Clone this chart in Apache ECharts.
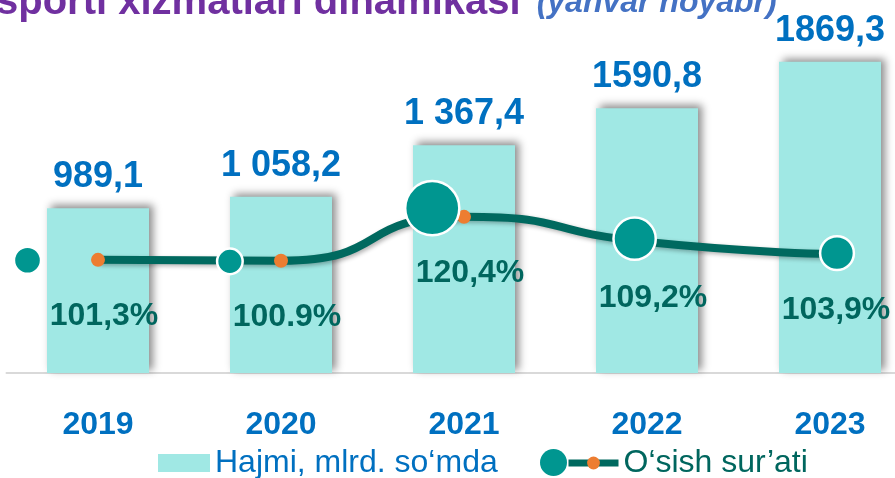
<!DOCTYPE html>
<html>
<head>
<meta charset="utf-8">
<script src="https://cdn.jsdelivr.net/npm/echarts@6.0.0/dist/echarts.min.js"></script>
<style>
  html, body { margin: 0; padding: 0; background: #fff; }
  #main { width: 895px; height: 478px; }
</style>
</head>
<body>
<div id="main"></div>
<script>
const years = ['2019', '2020', '2021', '2022', '2023']
const volume = [989.1, 1058.2, 1367.4, 1590.8, 1869.3]
const volumeLabels = ['989,1', '1 058,2', '1 367,4', '1590,8', '1869,3']
const growth = [101.3, 100.9, 120.4, 109.2, 103.9]
const growthLabels = ['101,3%', '100.9%', '120,4%', '109,2%', '103,9%']

const font = 'Liberation Sans, Arial, sans-serif'
const blue = '#0070C0'
const teal = '#00665E'

const chart = echarts.init(document.getElementById('main'), null, { renderer: 'canvas' })

const option = {
  animation: false,
  backgroundColor: '#fff',
  title: {
    left: -4,
    top: -17,
    padding: 0,
    text: '{a|sporti xizmatlari dinamikasi}{b|(yanvar noyabr)}',
    textStyle: {
      rich: {
        a: { fontFamily: font, fontSize: 40, fontWeight: 'bold', color: '#7030A0', lineHeight: 40 },
        b: { fontFamily: font, fontSize: 32, fontStyle: 'italic', color: '#4472C4', lineHeight: 40, padding: [0, 0, 0, 16] }
      }
    }
  },
  legend: [
    {
      data: ['Hajmi, mlrd. so‘mda'],
      left: 158, top: 447, padding: 0,
      itemWidth: 52, itemHeight: 18, icon: 'rect',
      textStyle: { fontFamily: font, fontSize: 32, color: blue }
    },
    {
      data: [{ name: 'doira', icon: 'circle' }],
      left: 540, top: 449, padding: 0,
      itemWidth: 27, itemHeight: 27,
      itemStyle: { borderWidth: 0 },
      formatter: () => ''
    },
    {
      data: ['O‘sish sur’ati'],
      left: 565, top: 447, padding: 0,
      itemWidth: 50, itemHeight: 16,
      lineStyle: { width: 7, color: '#00695F' },
      textStyle: { fontFamily: font, fontSize: 32, color: teal }
    }
  ],
  grid: [
    { left: 6.5, width: 915, top: 40, bottom: 105, outerBoundsMode: 'none' },
    { left: 27.5, width: 809.5, top: 40, bottom: 105, outerBoundsMode: 'none' }
  ],
  xAxis: [
    {
      type: 'category', gridIndex: 0, data: years,
      axisLine: { lineStyle: { color: '#D9D9D9', width: 2 } },
      axisTick: { show: false },
      axisLabel: { margin: 36, fontFamily: font, fontSize: 32, fontWeight: 'bold', color: blue }
    },
    { type: 'category', gridIndex: 1, data: years, boundaryGap: false, show: false }
  ],
  yAxis: [
    { type: 'value', gridIndex: 0, min: 0, max: 2000, show: false },
    { type: 'value', gridIndex: 0, min: 51, max: 199, show: false },
    { type: 'value', gridIndex: 1, min: 60, max: 182, show: false }
  ],
  series: [
    {
      name: 'Hajmi, mlrd. so‘mda',
      type: 'bar', xAxisIndex: 0, yAxisIndex: 0,
      data: volume, barWidth: 102,
      itemStyle: {
        color: '#A0E8E4',
        shadowColor: 'rgba(0,0,0,0.45)', shadowBlur: 8, shadowOffsetX: 4, shadowOffsetY: -3
      },
      label: {
        show: true, position: 'top', distance: 13,
        formatter: p => volumeLabels[p.dataIndex],
        fontFamily: font, fontSize: 36, fontWeight: 'bold', color: blue
      },
      z: 1
    },
    {
      name: 'O‘sish sur’ati',
      type: 'line', xAxisIndex: 0, yAxisIndex: 1,
      data: growth, smooth: 0.6,
      symbol: 'circle', symbolSize: 14,
      lineStyle: { color: '#00695F', width: 8, shadowColor: 'rgba(0,0,0,0.3)', shadowBlur: 4, shadowOffsetX: 2, shadowOffsetY: 2 },
      itemStyle: { color: '#ED7D31' },
      label: {
        show: true, position: 'bottom', distance: 33, offset: [6, 0],
        formatter: p => growthLabels[p.dataIndex],
        fontFamily: font, fontSize: 32, fontWeight: 'bold', color: teal
      },
      z: 3
    },
    {
      name: 'doira',
      type: 'scatter', xAxisIndex: 1, yAxisIndex: 2,
      data: growth,
      symbolSize: v => 18 + 8 * Math.sqrt(Math.max(v - 100, 0)),
      itemStyle: { color: '#009690', borderColor: '#fff', borderWidth: 2.5, opacity: 1 },
      z: 5
    }
  ]
}

chart.setOption(option)
</script>
</body>
</html>
